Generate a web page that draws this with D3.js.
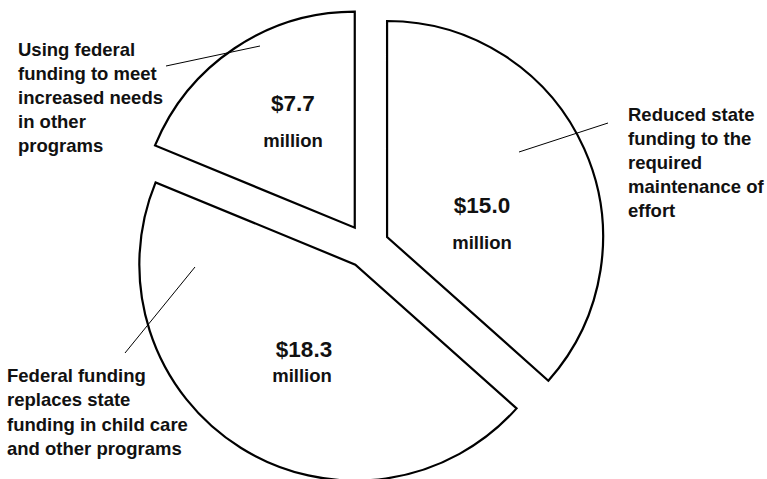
<!DOCTYPE html>
<html>
<head>
<meta charset="utf-8">
<script src="https://cdn.jsdelivr.net/npm/d3@7/dist/d3.min.js"></script>
<style>
  html, body { margin: 0; padding: 0; background: #fff; }
  svg { display: block; font-family: "Liberation Sans", Arial, sans-serif; font-weight: bold; }
</style>
</head>
<body>
<div id="chart"></div>
<script>
// slices, clockwise from 12 o'clock
var categories = [
  "Reduced state funding to the required maintenance of effort",
  "Federal funding replaces state funding in child care and other programs",
  "Using federal funding to meet increased needs in other programs"
];
var values = [15.0, 18.3, 7.7];
var valueLabels = ["$15.0", "$18.3", "$7.7"];
var unitLabel = "million";
var categoryLines = [
  ["Reduced state", "funding to the", "required", "maintenance of", "effort"],
  ["Federal funding", "replaces state", "funding in child care", "and other programs"],
  ["Using federal", "funding to meet", "increased needs", "in other", "programs"]
];

var width = 767, height = 479;
var cx = 367, cy = 246, radius = 216, explode = 22;

// annotation layout (value label centre/baselines, category text, leader lines)
var valuePos = [
  {x: 482, y: 213, ux: 482, uy: 249},
  {x: 304, y: 357, ux: 302, uy: 382},
  {x: 293, y: 111, ux: 293, uy: 147}
];
var textPos = [
  {x: 628, y: 121, dy: 24},
  {x: 7, y: 382, dy: 24.4},
  {x: 18, y: 56, dy: 24}
];
var leaders = [
  [[519, 152], [608, 123]],
  [[195, 267], [125, 353]],
  [[260, 46], [166, 66]]
];

var svg = d3.select("#chart").append("svg")
  .attr("width", width)
  .attr("height", height);

var pie = d3.pie().sort(null).value(function (d) { return d; });
var arc = d3.arc().innerRadius(0).outerRadius(radius);
var arcs = pie(values);

var g = svg.append("g").attr("transform", "translate(" + cx + "," + cy + ")");

g.selectAll("path.slice")
  .data(arcs)
  .enter().append("path")
  .attr("class", "slice")
  .attr("d", arc)
  .attr("transform", function (d) {
    var a = (d.startAngle + d.endAngle) / 2;
    return "translate(" + (Math.sin(a) * explode) + "," + (-Math.cos(a) * explode) + ")";
  })
  .style("fill", "#fff")
  .style("stroke", "#000")
  .style("stroke-width", 2.2)
  .style("stroke-linejoin", "miter");

// leader lines
svg.selectAll("line.leader")
  .data(leaders)
  .enter().append("line")
  .attr("class", "leader")
  .attr("x1", function (d) { return d[0][0]; })
  .attr("y1", function (d) { return d[0][1]; })
  .attr("x2", function (d) { return d[1][0]; })
  .attr("y2", function (d) { return d[1][1]; })
  .style("stroke", "#000")
  .style("stroke-width", 1);

// value labels
valueLabels.forEach(function (lbl, i) {
  var p = valuePos[i];
  svg.append("text")
    .attr("x", p.x).attr("y", p.y)
    .attr("text-anchor", "middle")
    .style("font-size", "22.5px")
    .style("fill", "#111")
    .text(lbl);
  svg.append("text")
    .attr("x", p.ux).attr("y", p.uy)
    .attr("text-anchor", "middle")
    .style("font-size", "18.5px")
    .style("fill", "#111")
    .text(unitLabel);
});

// category labels
categoryLines.forEach(function (lines, i) {
  var p = textPos[i];
  var t = svg.append("text")
    .attr("x", p.x).attr("y", p.y)
    .style("font-size", "18.5px")
    .style("fill", "#111")
    .attr("aria-label", categories[i]);
  t.selectAll("tspan")
    .data(lines)
    .enter().append("tspan")
    .attr("x", p.x)
    .attr("y", function (d, j) { return p.y + j * p.dy; })
    .text(function (d) { return d; });
});
</script>
</body>
</html>
